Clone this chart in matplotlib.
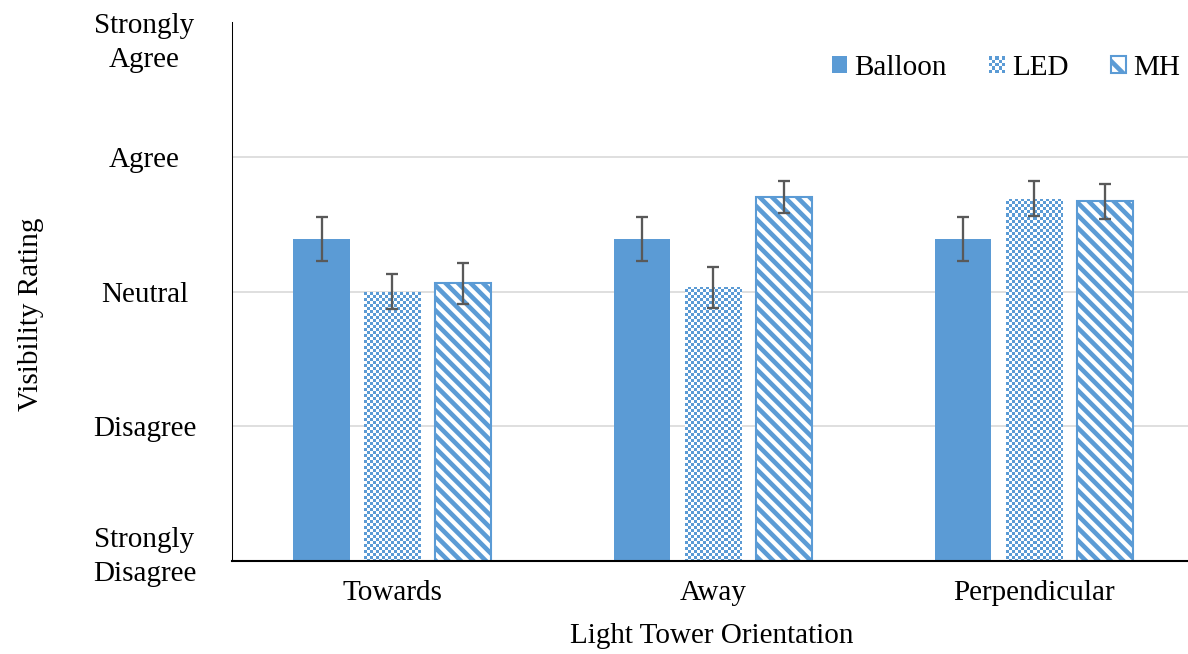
import numpy as np
import matplotlib
matplotlib.use("Agg")
import matplotlib.pyplot as plt
from matplotlib.patches import Patch, Rectangle
from matplotlib.colors import ListedColormap
from matplotlib.transforms import ScaledTranslation
from matplotlib.legend_handler import HandlerBase

# ------------------------------------------------------------
# Data
# ------------------------------------------------------------
categories = ["Towards", "Away", "Perpendicular"]
series_names = ["Balloon", "LED", "MH"]

balloon_vals = [3.39, 3.39, 3.39]
balloon_err = [0.16, 0.16, 0.16]
led_vals = [3.00, 3.03, 3.69]
led_err = [0.13, 0.15, 0.13]
mh_vals = [3.06, 3.70, 3.67]
mh_err = [0.15, 0.12, 0.13]

rating_values = [1, 2, 3, 4, 5]
rating_labels = ["Strongly\nDisagree", "Disagree", "Neutral", "Agree", "Strongly\nAgree"]

# ------------------------------------------------------------
# Style
# ------------------------------------------------------------
BLUE = "#5B9BD5"
ERR_COLOR = "#595959"
GRID_COLOR = "#D9D9D9"
FONT_SIZE = 14

plt.rcParams["font.family"] = ["Liberation Serif", "DejaVu Serif"]
plt.rcParams["hatch.linewidth"] = 2.2

DPI = 150
FIG_W, FIG_H = 1188, 654


class CheckerHandler(HandlerBase):
    """Legend handle drawn as a small blue/white checkerboard."""

    def create_artists(self, legend, orig_handle, xdescent, ydescent,
                       width, height, fontsize, trans):
        n = 5
        cw, ch = width / n, height / n
        artists = []
        for i in range(n):
            for j in range(n):
                color = BLUE if (i + j) % 2 == 0 else "white"
                artists.append(Rectangle((-xdescent + i * cw, -ydescent + j * ch), cw, ch,
                                         facecolor=color, linewidth=0, transform=trans))
        return artists


fig = plt.figure(figsize=(FIG_W / DPI, FIG_H / DPI), dpi=DPI)
ax_px = (232, 93, 956, 539)  # left, bottom, width, height in pixels
ax = fig.add_axes([ax_px[0] / FIG_W, ax_px[1] / FIG_H, ax_px[2] / FIG_W, ax_px[3] / FIG_H])

x = np.arange(len(categories))
offset = 0.221
width = 0.175
xlim = (-0.5, 2.48)
ylim = (1, 5)

ax.bar(x - offset, balloon_vals, width, bottom=0, color=BLUE, linewidth=0, zorder=2)

# LED bars: checkerboard texture clipped to the bar shapes
led_bars = ax.bar(x, led_vals, width, color="none", linewidth=0, zorder=2)
rows, cols = np.indices((ax_px[3], ax_px[2]))
checker = ((rows // 3 + cols // 3) % 2).astype(float)
cmap = ListedColormap([BLUE, "white"])
for bar in led_bars:
    im = ax.imshow(checker, cmap=cmap, extent=(xlim[0], xlim[1], ylim[0], ylim[1]),
                   interpolation="nearest", aspect="auto", zorder=2)
    im.set_clip_path(bar)

ax.bar(x + offset, mh_vals, width, facecolor="white", edgecolor=BLUE,
       hatch="\\\\\\\\", linewidth=1.0, zorder=2)

err_kw = dict(fmt="none", ecolor=ERR_COLOR, elinewidth=1.1, capsize=2.9, capthick=1.1, zorder=3)
ax.errorbar(x - offset, balloon_vals, yerr=balloon_err, **err_kw)
ax.errorbar(x, led_vals, yerr=led_err, **err_kw)
ax.errorbar(x + offset, mh_vals, yerr=mh_err, **err_kw)

ax.set_xlim(*xlim)
ax.set_ylim(*ylim)

# grid
for v in rating_values[1:-1]:
    ax.axhline(v, color=GRID_COLOR, linewidth=0.8, zorder=0)

for side in ["top", "right"]:
    ax.spines[side].set_visible(False)
ax.spines["bottom"].set_linewidth(1.0)
ax.spines["left"].set_linewidth(0.5)
ax.spines["bottom"].set_zorder(4)

ax.set_xticks(x)
ax.set_xticklabels(categories, fontsize=FONT_SIZE)
ax.tick_params(axis="x", length=0, pad=9)

ax.set_yticks(rating_values)
ax.set_yticklabels(rating_labels, fontsize=FONT_SIZE, ha="center",
                   multialignment="center", linespacing=1.38)
ax.tick_params(axis="y", length=0, pad=42)
ylabels = ax.get_yticklabels()
ylabels[-1].set_transform(ylabels[-1].get_transform() +
                          ScaledTranslation(0, -14 / DPI, fig.dpi_scale_trans))
ylabels[0].set_transform(ylabels[0].get_transform() +
                         ScaledTranslation(0, 11 / DPI, fig.dpi_scale_trans))

ax.set_xlabel("Light Tower Orientation", fontsize=FONT_SIZE)
ax.xaxis.set_label_coords((712 - ax_px[0]) / ax_px[2], -(636 - 561) / ax_px[3])
ax.xaxis.label.set_va("center")
fig.text(31 / FIG_W, 1 - 314 / FIG_H, "Visibility Rating", rotation=90,
         fontsize=FONT_SIZE, ha="center", va="center")

handles = [
    Patch(facecolor=BLUE, linewidth=0),
    Patch(facecolor=BLUE, linewidth=0),
    Patch(facecolor="white", edgecolor=BLUE, hatch="\\", linewidth=1.0),
]
ax.legend(handles, series_names, ncol=3, frameon=False, fontsize=FONT_SIZE,
          loc="center right", bbox_to_anchor=(1180 / FIG_W, 1 - 68 / FIG_H),
          bbox_transform=fig.transFigure, borderpad=0, borderaxespad=0,
          handlelength=0.52, handleheight=0.52, handletextpad=0.25, columnspacing=1.45,
          handler_map={handles[1]: CheckerHandler()})

fig.savefig("out.png", dpi=DPI)
